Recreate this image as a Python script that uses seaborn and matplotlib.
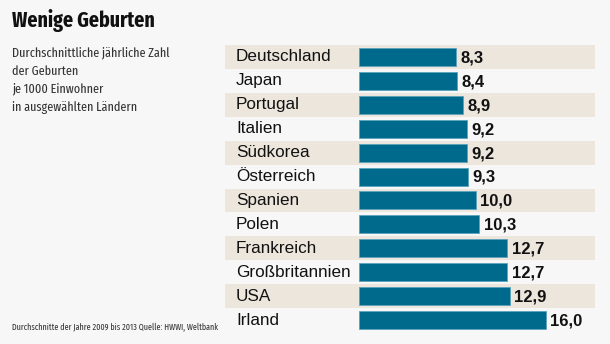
import matplotlib
matplotlib.use("Agg")
import matplotlib.pyplot as plt
import seaborn as sns
import pandas as pd
from matplotlib import font_manager

countries = ["Deutschland", "Japan", "Portugal", "Italien", "Südkorea", "Österreich",
             "Spanien", "Polen", "Frankreich", "Großbritannien", "USA", "Irland"]
values = [8.3, 8.4, 8.9, 9.2, 9.2, 9.3, 10.0, 10.3, 12.7, 12.7, 12.9, 16.0]
value_labels = ["8,3", "8,4", "8,9", "9,2", "9,2", "9,3", "10,0", "10,3", "12,7", "12,7", "12,9", "16,0"]

title = "Wenige Geburten"
subtitle = ["Durchschnittliche jährliche Zahl", "der Geburten", "je 1000 Einwohner", "in ausgewählten Ländern"]
footnote = "Durchschnitte der Jahre 2009 bis 2013 Quelle: HWWI, Weltbank"

df = pd.DataFrame({"Land": countries, "Wert": values})

sns.set_theme(style="white")
names = {f.name for f in font_manager.fontManager.ttflist}
narrow = "DejaVu Sans"
for cand in ["Fira Sans Extra Condensed", "Fira Sans Condensed", "Roboto Condensed", "PT Sans Narrow",
             "Liberation Sans Narrow"]:
    if cand in names:
        narrow = cand
        break
plt.rcParams["font.family"] = ["Liberation Sans", "DejaVu Sans"]

bg = "#f7f7f7"
band = "#ede6dd"
bar_color = "#006a8c"

W, H = 610, 344
fig = plt.figure(figsize=(W / 100, H / 100), dpi=100, facecolor=bg)
renderer = fig.canvas.get_renderer()


def fit(t, target_px):
    w = t.get_window_extent(renderer).width
    t.set_fontsize(t.get_fontsize() * target_px / w)
    return t


# axes geometry in pixels
ax_left, ax_right = 225, 595
ax_top, ax_bot = 45, 332
ax = fig.add_axes([ax_left / W, 1 - ax_bot / H, (ax_right - ax_left) / W, (ax_bot - ax_top) / H])
ax.set_facecolor(bg)

zero_px = 359
scale = 11.69
ax.set_xlim(-(zero_px - ax_left) / scale, (ax_right - zero_px) / scale)

for i in range(len(countries)):
    if i % 2 == 0:
        ax.axhspan(i - 0.5, i + 0.5, color=band, zorder=0, lw=0)

sns.barplot(data=df, x="Wert", y="Land", orient="h", color=bar_color, width=0.75,
            saturation=1, ax=ax, zorder=2, edgecolor="#5aa3bd", linewidth=0.6)
ax.set_ylim(len(countries) - 0.5, -0.5)

xmin = ax.get_xlim()[0]
for i, (c, v, lab) in enumerate(zip(countries, values, value_labels)):
    ax.text(xmin + 11 / scale, i, c, va="center", ha="left", fontsize=12.3, color="#111111")
    ax.text(v + 0.38, i + 0.04, lab, va="center", ha="left", fontsize=12, fontweight="bold", color="#111111")

ax.set_xlabel("")
ax.set_ylabel("")
ax.set_xticks([])
ax.set_yticks([])
for s in ax.spines.values():
    s.set_visible(False)

t = fig.text(12 / W, 1 - 21 / H, title, fontsize=15.5, fontweight="bold", family=[narrow, "DejaVu Sans"],
             va="center", ha="left", color="#111111")
fit(t, 143)
sub_texts = []
for k, line in enumerate(subtitle):
    st = fig.text(12 / W, 1 - (53 + k * 18) / H, line, fontsize=10.5, family=[narrow, "DejaVu Sans"],
                  va="center", ha="left", color="#333333")
    sub_texts.append(st)
fit(sub_texts[0], 159)
for st in sub_texts[1:]:
    st.set_fontsize(sub_texts[0].get_fontsize())
ft = fig.text(12 / W, 1 - 327 / H, footnote, fontsize=7.2, family=[narrow, "DejaVu Sans"],
              va="center", ha="left", color="#333333")
fit(ft, 206)

fig.savefig("out.png", dpi=100, facecolor=bg)
